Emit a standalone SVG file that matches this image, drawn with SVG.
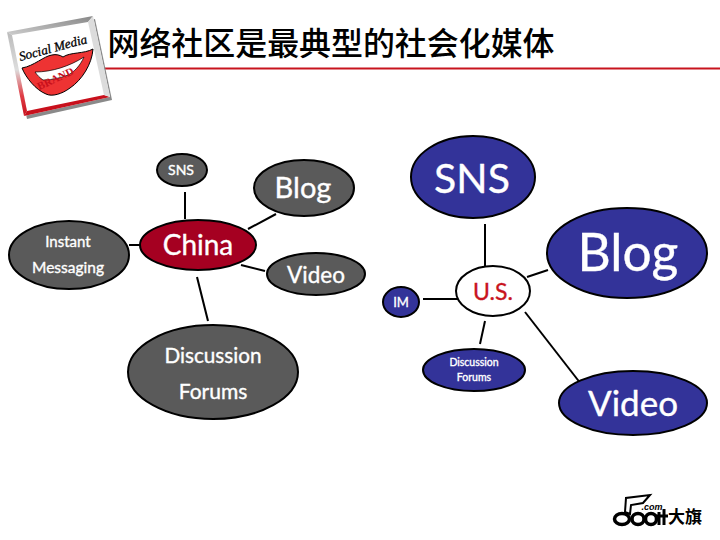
<svg xmlns="http://www.w3.org/2000/svg" width="720" height="540" viewBox="0 0 720 540">
<defs>
<linearGradient id="fl" x1="0" y1="0" x2="0" y2="1"><stop offset="0" stop-color="#bbb"/><stop offset=".45" stop-color="#ddd"/><stop offset=".75" stop-color="#e04048"/><stop offset="1" stop-color="#c8101c"/></linearGradient>
<linearGradient id="ft" x1="0" y1="1" x2="1" y2="0"><stop offset="0" stop-color="#ccc"/><stop offset="1" stop-color="#888"/></linearGradient>
</defs>
<style>
.n{stroke:#000;stroke-width:2}
.g{fill:#5a5a5a}.b{fill:#333399}.r{fill:#a50021}.w{fill:#fff}
text{font-family:"Lato","Liberation Sans",sans-serif;text-anchor:middle;fill:#fff}
.t{stroke:#fff;stroke-width:.35}
.c line{stroke:#000;stroke-width:2;fill:none}
.k{fill:#fff;stroke:#000;stroke-width:3.500}
</style>
<rect width="720" height="540" fill="#fff"/>
<g id="title">
<line x1="103" y1="68.500" x2="720" y2="68.500" stroke="#c8141e" stroke-width="2"/>
<text x="331" y="55" font-size="32" font-weight="500" style="font-family:'Noto Sans CJK SC',sans-serif;fill:#000" textLength="447" lengthAdjust="spacingAndGlyphs">网络社区是最典型的社会化媒体</text>
</g>
<g id="logo">
<polygon points="10,36 95,19 112,100 27,119" fill="#8a8a8a"/>
<polygon points="7,32 93,16 110,97 24,116" fill="#fff"/>
<polygon points="7,32 93,16 88,22 12,35" fill="url(#ft)"/>
<polygon points="7,32 12,35 27,111 24,116" fill="url(#fl)"/>
<polygon points="24,116 27,111 104,95 110,97" fill="#c8101c"/>
<polygon points="93,16 110,97 104,95 88,22" fill="#dcdcdc"/>
<path d="M22,68 C34,66 44,56 52,55 C56,54 60,55 63,57 C70,52 84,54 93,49 C92,64 82,80 70,88 C62,94 52,97 46,94 C36,90 26,78 22,68Z" fill="#ee3333" stroke="#000" stroke-width="1"/>
<path d="M35,72 C52,72 70,66 84,57 C80,66 74,72 68,75 C58,79 48,80 43,80 C40,78 37,75 35,72Z" fill="#fff" stroke="#000" stroke-width=".7"/>
<text transform="translate(54,52) rotate(-15)" font-size="13" font-style="italic" style="font-family:'Liberation Serif',serif;fill:#000;stroke:#000;stroke-width:.3" textLength="70" lengthAdjust="spacingAndGlyphs">Social Media</text>
<text transform="translate(57,82) rotate(-25)" font-size="11" font-weight="700" style="font-family:'Liberation Serif',serif;fill:#c8101c">BRAND</text>
</g>
<g id="brand">
<path d="M625,512 L626,498 L650,495 L643,503 L631,505 L630,514Z" fill="#fff" stroke="#000" stroke-width="2"/>
<ellipse class="k" cx="622" cy="519" rx="7.500" ry="5.500"/>
<ellipse class="k" cx="638" cy="519" rx="6" ry="5.500"/>
<ellipse class="k" cx="651" cy="519" rx="5.500" ry="5.500"/>
<path d="M659,512 V525 M664,509 V525 M656,516 H668" stroke="#000" stroke-width="3" fill="none"/>
<text x="652" y="510" font-size="9" font-weight="700" font-style="italic" style="font-family:'Liberation Sans',sans-serif;fill:#000">.com</text>
<text x="685" y="523" font-size="17" font-weight="700" style="font-family:'Noto Sans CJK SC',sans-serif;fill:#000">大旗</text>
</g>
<g class="c" id="connectors">
<line x1="185" y1="192" x2="185" y2="219"/>
<line x1="276" y1="214" x2="248" y2="229"/>
<line x1="129" y1="245" x2="140" y2="245"/>
<line x1="241" y1="265" x2="265" y2="271"/>
<line x1="197" y1="277" x2="208" y2="321"/>
<line x1="485" y1="224" x2="485" y2="266"/>
<line x1="527" y1="277" x2="548" y2="270"/>
<line x1="423" y1="299" x2="458" y2="299"/>
<line x1="485" y1="321" x2="480" y2="344"/>
<line x1="525" y1="312" x2="581" y2="384"/>
</g>
<g id="n-sns"><ellipse class="n g" cx="182" cy="170" rx="25" ry="16"/><text class="t" x="181" y="175" font-size="14">SNS</text></g>
<g id="n-blog"><ellipse class="n g" cx="304" cy="188" rx="50" ry="28"/><text class="t" x="303" y="198" font-size="29">Blog</text></g>
<g id="n-im"><ellipse class="n g" cx="69" cy="255" rx="60" ry="34"/><text class="t" x="68" y="247" font-size="15">Instant</text><text class="t" x="68" y="273" font-size="15.500">Messaging</text></g>
<g id="n-china"><ellipse class="n r" cx="198" cy="245" rx="58" ry="25"/><text class="t" x="198" y="255" font-size="28">China</text></g>
<g id="n-video"><ellipse class="n g" cx="316" cy="274" rx="49" ry="21"/><text class="t" x="316" y="283" font-size="22.500">Video</text></g>
<g id="n-forums"><ellipse class="n g" cx="213" cy="372" rx="85" ry="47"/><text class="t" x="213" y="363" font-size="20.700">Discussion</text><text class="t" x="213" y="399" font-size="21">Forums</text></g>
<g id="u-sns"><ellipse class="n b" cx="473" cy="177" rx="62" ry="41"/><text class="t" x="472" y="193" font-size="41">SNS</text></g>
<g id="u-blog"><ellipse class="n b" cx="627" cy="253" rx="80" ry="45"/><text class="t" x="628" y="271" font-size="51.500">Blog</text></g>
<g id="u-us"><ellipse class="n w" cx="493" cy="291" rx="37" ry="25"/><text x="493" y="300" font-size="23" style="fill:#c8141e;stroke:#c8141e;stroke-width:.35">U.S.</text></g>
<g id="u-im"><ellipse class="n b" cx="401" cy="302" rx="18" ry="15"/><text class="t" x="401" y="307" font-size="13">IM</text></g>
<g id="u-forums"><ellipse class="n b" cx="474" cy="370" rx="51" ry="21"/><text class="t" x="474" y="366" font-size="10.500">Discussion</text><text class="t" x="474" y="381" font-size="10.500">Forums</text></g>
<g id="u-video"><ellipse class="n b" cx="633" cy="403" rx="74" ry="32"/><text class="t" x="633" y="416" font-size="35">Video</text></g>
</svg>
